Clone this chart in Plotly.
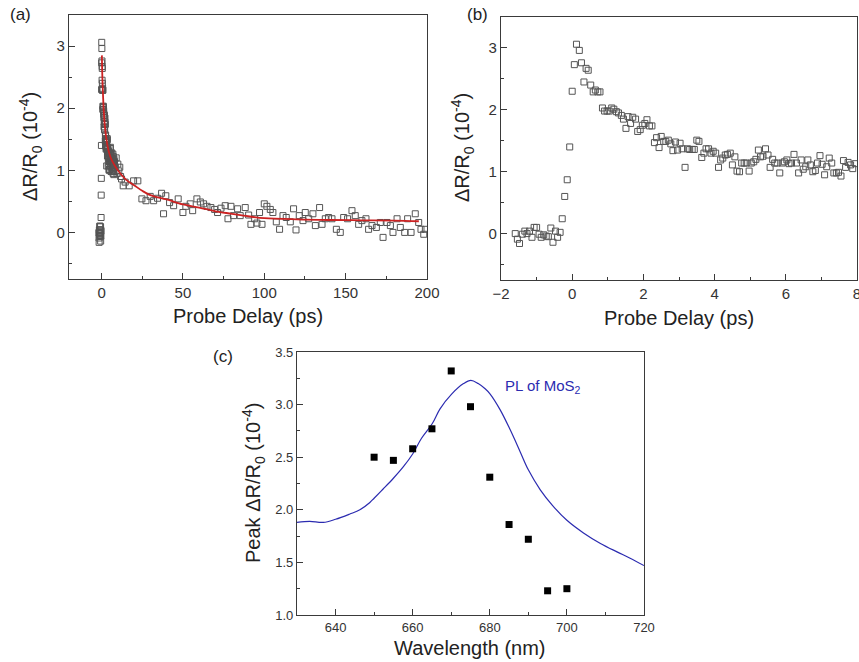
import plotly.graph_objects as go

# 공통 데이터: 지연 시간(ps)과 ΔR/R0 (10^-4)
t_short = [-1.60, -1.54, -1.48, -1.40, -1.33, -1.27, -1.20, -1.13, -1.07, -1.00,
           -0.93, -0.87, -0.80, -0.73, -0.67, -0.60, -0.54, -0.47, -0.41, -0.34,
           -0.28, -0.21, -0.14, -0.07, 0.00, 0.06, 0.12, 0.20, 0.26, 0.33,
           0.39, 0.45, 0.52, 0.59, 0.65, 0.72, 0.78, 0.85, 0.91, 0.98,
           1.04, 1.11, 1.17, 1.24, 1.30, 1.38, 1.44, 1.51, 1.57, 1.64,
           1.70, 1.78, 1.84, 1.91, 1.97, 2.04, 2.10, 2.17, 2.24, 2.31,
           2.37, 2.44, 2.50, 2.57, 2.63, 2.70, 2.77, 2.83, 2.90, 2.96,
           3.03, 3.09, 3.17, 3.24, 3.30, 3.37, 3.43, 3.50, 3.56, 3.64,
           3.70, 3.76, 3.83, 3.90, 3.96, 4.03, 4.11, 4.17, 4.23, 4.30,
           4.36, 4.44, 4.50, 4.57, 4.63, 4.70, 4.76, 4.83, 4.89, 4.97,
           5.03, 5.10, 5.16, 5.23, 5.29, 5.36, 5.43, 5.50, 5.56, 5.63,
           5.69, 5.76, 5.83, 5.90, 5.96, 6.03, 6.09, 6.16, 6.23, 6.30,
           6.36, 6.43, 6.49, 6.56, 6.62, 6.69, 6.76, 6.83, 6.89, 6.96,
           7.02, 7.09, 7.15, 7.22, 7.29, 7.35, 7.42, 7.48, 7.55, 7.62,
           7.68, 7.75, 7.82, 7.88, 7.95]
dr_short = [0.00, -0.09, -0.16, -0.01, 0.04, 0.00, 0.04, -0.06, 0.10, 0.10,
            -0.01, -0.06, -0.02, -0.04, -0.05, 0.09, -0.14, 0.04, -0.06, 0.02,
            0.24, 0.60, 0.87, 1.40, 2.30, 2.73, 3.06, 2.96, 2.76, 2.45,
            2.67, 2.64, 2.40, 2.29, 2.32, 2.29, 2.29, 2.03, 1.98, 1.98,
            1.98, 2.03, 2.01, 1.97, 1.95, 1.91, 1.85, 1.70, 1.89, 1.78,
            1.88, 1.85, 1.65, 1.68, 1.75, 1.78, 1.84, 1.74, 1.74, 1.47,
            1.55, 1.39, 1.57, 1.49, 1.49, 1.51, 1.45, 1.34, 1.48, 1.35,
            1.46, 1.37, 1.07, 1.37, 1.36, 1.36, 1.36, 1.51, 1.49, 1.23,
            1.30, 1.37, 1.37, 1.30, 1.33, 1.30, 1.07, 1.19, 1.22, 1.27,
            1.28, 1.30, 1.11, 1.24, 1.01, 1.00, 1.14, 1.14, 1.14, 1.01,
            1.14, 1.16, 1.20, 1.35, 1.24, 1.25, 1.37, 1.27, 1.07, 1.20,
            1.14, 1.14, 0.98, 1.14, 1.16, 1.19, 1.13, 1.14, 1.28, 1.14,
            0.98, 1.19, 1.04, 1.08, 1.19, 1.11, 1.00, 1.02, 1.14, 1.26,
            1.12, 0.95, 1.08, 1.22, 1.14, 0.98, 0.98, 0.99, 0.93, 1.18,
            1.07, 1.15, 1.11, 1.05, 1.13]

t_long = [8.5, 9.0, 9.5, 10.0, 10.6, 11.2, 11.7, 12.3, 13.3, 14.5,
          17.0, 19.7, 22.3, 24.8, 27.3, 29.9, 32.0, 34.4, 36.9, 38.1,
          39.5, 41.8, 44.3, 47.1, 50.0, 51.8, 54.5, 56.0, 58.6, 60.7,
          62.7, 64.8, 67.2, 69.5, 71.3, 73.4, 76.0, 77.7, 79.5, 81.1,
          83.6, 85.2, 88.3, 90.4, 91.8, 94.1, 95.5, 97.1, 98.6, 100.0,
          101.6, 103.7, 105.3, 107.4, 109.4, 111.5, 113.5, 116.0, 118.0, 119.5,
          121.5, 123.8, 125.2, 127.3, 129.9, 131.4, 134.0, 135.5, 137.5, 139.5,
          141.6, 144.3, 146.7, 148.8, 151.2, 153.9, 155.9, 158.0, 160.0, 162.5,
          164.1, 166.2, 168.9, 171.3, 173.0, 175.4, 177.5, 179.1, 181.6, 183.6,
          186.3, 188.1, 190.2, 192.8, 194.9, 196.3, 198.0, 199.0]
dr_long = [1.05, 1.20, 0.95, 1.10, 0.99, 1.05, 0.90, 0.86, 0.75, 0.81,
           0.75, 0.83, 0.83, 0.54, 0.51, 0.58, 0.51, 0.55, 0.63, 0.30,
           0.59, 0.48, 0.43, 0.54, 0.32, 0.42, 0.46, 0.35, 0.54, 0.49,
           0.46, 0.42, 0.40, 0.37, 0.32, 0.39, 0.43, 0.22, 0.42, 0.27,
           0.38, 0.27, 0.40, 0.28, 0.13, 0.22, 0.15, 0.32, 0.13, 0.46,
           0.42, 0.37, 0.32, 0.17, 0.05, 0.27, 0.24, 0.17, 0.38, 0.04,
           0.27, 0.19, 0.32, 0.22, 0.30, 0.11, 0.40, 0.13, 0.22, 0.24,
           0.22, 0.05, 0.00, 0.24, 0.22, 0.35, 0.27, 0.13, 0.19, 0.22,
           0.05, 0.11, 0.08, 0.16, -0.08, 0.16, 0.11, 0.00, 0.22, 0.08,
           0.00, 0.22, 0.00, 0.30, 0.16, 0.05, -0.03, 0.05]

# 피팅 곡선
t_fit = [0.2, 0.5, 1, 1.5, 2, 3, 4, 5, 6, 8, 10, 15, 20, 25, 30, 40, 50,
         60, 70, 80, 90, 100, 120, 140, 160, 180, 195]
dr_fit = [2.85, 2.5, 2.15, 1.9, 1.72, 1.5, 1.35, 1.25, 1.18, 1.08, 1.0, 0.85,
          0.76, 0.67, 0.60, 0.53, 0.45, 0.40, 0.34, 0.30, 0.26, 0.23, 0.21,
          0.20, 0.195, 0.19, 0.18]

# (c) 파장별 피크 신호와 PL 스펙트럼
wl_peak = [650, 655, 660, 665, 670, 675, 680, 685, 690, 695, 700]
peak_dr = [2.50, 2.47, 2.58, 2.77, 3.32, 2.98, 2.31, 1.86, 1.72, 1.23, 1.25]

wl_pl = [630, 633.3, 636.8, 640, 643.7, 646.3, 648.9, 650, 652.4, 655, 657.6,
         660, 662.3, 665.1, 667.1, 670.1, 673.2, 675.1, 677, 678.8, 680.1,
         682.7, 685.3, 687.9, 690, 693.1, 696.3, 700, 704.3, 708.7, 713,
         716.4, 720]
pl = [1.88, 1.89, 1.88, 1.91, 1.96, 2.00, 2.07, 2.11, 2.20, 2.30, 2.41,
      2.53, 2.68, 2.82, 2.96, 3.10, 3.20, 3.23, 3.20, 3.15, 3.10,
      2.95, 2.76, 2.55, 2.38, 2.19, 2.04, 1.90, 1.78, 1.68, 1.60,
      1.54, 1.47]

FONT = "Arial, Liberation Sans, sans-serif"
AX = "#3a3a3a"
W, H = 859, 662

open_sq = dict(symbol="square-open", size=6, color="#555555", line=dict(width=1))

fig = go.Figure()
fig.add_trace(go.Scatter(x=t_short + t_long, y=dr_short + dr_long, mode="markers",
                         marker=open_sq, xaxis="x", yaxis="y"))
fig.add_trace(go.Scatter(x=t_fit, y=dr_fit, mode="lines", line_shape="spline",
                         line=dict(color="#cc2222", width=1.8), xaxis="x", yaxis="y"))
fig.add_trace(go.Scatter(x=t_short + t_long, y=dr_short + dr_long, mode="markers",
                         marker=open_sq, xaxis="x2", yaxis="y2"))
fig.add_trace(go.Scatter(x=wl_pl, y=pl, mode="lines", line_shape="spline",
                         line=dict(color="#2b2bb0", width=1.2), xaxis="x3", yaxis="y3"))
fig.add_trace(go.Scatter(x=wl_peak, y=peak_dr, mode="markers",
                         marker=dict(symbol="square", size=7, color="black"),
                         xaxis="x3", yaxis="y3"))


def ax(domain, rng, dtick, minor, anchor, fmt=None, size=15):
    d = dict(domain=domain, range=rng, dtick=dtick, anchor=anchor, automargin=False,
             showgrid=False, zeroline=False, showline=True, mirror=True,
             linecolor=AX, linewidth=1.3, ticks="inside", ticklen=6,
             tickcolor=AX, tickwidth=1.2, ticklabeloverflow="allow",
             minor=dict(dtick=minor, ticks="inside", ticklen=3, tickcolor=AX),
             tickfont=dict(family=FONT, size=size, color="#333333"))
    if fmt:
        d["tickformat"] = fmt
    return d


def px_x(a, b):
    return [a / W, b / W]


def px_y(top, bottom):
    return [1 - bottom / H, 1 - top / H]


fig.update_layout(
    template="none",
    width=W, height=H, margin=dict(l=0, r=0, t=0, b=0, autoexpand=False),
    plot_bgcolor="white", paper_bgcolor="white", showlegend=False,
    font=dict(family=FONT, color="#222222"),
    xaxis=ax(px_x(69, 427), [-20, 200], 50, 25, "y"),
    yaxis=ax(px_y(15, 279), [-0.75, 3.5], 1, 0.5, "x"),
    xaxis2=ax(px_x(501, 857), [-2, 8], 2, 1, "y2"),
    yaxis2=ax(px_y(17, 280), [-0.75, 3.5], 1, 0.5, "x2"),
    xaxis3=ax(px_x(297, 644), [630, 720], 20, 10, "y3", size=13),
    yaxis3=ax(px_y(352, 615), [1.0, 3.5], 0.5, 0.25, "x3", fmt=".1f", size=13),
)

ylab = "ΔR/R<sub>0</sub> (10<sup>-4</sup>)"
notes = [
    dict(x=8, y=15, text="(a)", size=17, xanchor="left"),
    dict(x=465, y=15, text="(b)", size=17, xanchor="left"),
    dict(x=211, y=356, text="(c)", size=17, xanchor="left"),
    dict(x=248, y=316, text="Probe Delay (ps)", size=20, xanchor="center"),
    dict(x=679, y=318, text="Probe Delay (ps)", size=20, xanchor="center"),
    dict(x=470, y=648, text="Wavelength (nm)", size=20, xanchor="center"),
]
for n in notes:
    fig.add_annotation(x=n["x"] / W, y=1 - n["y"] / H, xref="paper", yref="paper",
                       text=n["text"], showarrow=False, xanchor=n["xanchor"],
                       yanchor="middle", font=dict(family=FONT, size=n["size"], color="#222222"))

for x, y, txt in [(30, 147, ylab), (462, 148, ylab), (253, 483, "Peak " + ylab)]:
    fig.add_annotation(x=x / W, y=1 - y / H, xref="paper", yref="paper", text=txt,
                       showarrow=False, textangle=-90, xanchor="center", yanchor="middle",
                       font=dict(family=FONT, size=20, color="#222222"))

fig.add_annotation(x=683.5, y=3.17, xref="x3", yref="y3", text="PL of MoS<sub>2</sub>",
                   showarrow=False, xanchor="left", yanchor="middle",
                   font=dict(family=FONT, size=15, color="#2b2bb0"))

fig.write_html("out.html", config={"displayModeBar": False},
               post_script="document.body.style.margin='0';document.body.style.overflow='hidden';")
